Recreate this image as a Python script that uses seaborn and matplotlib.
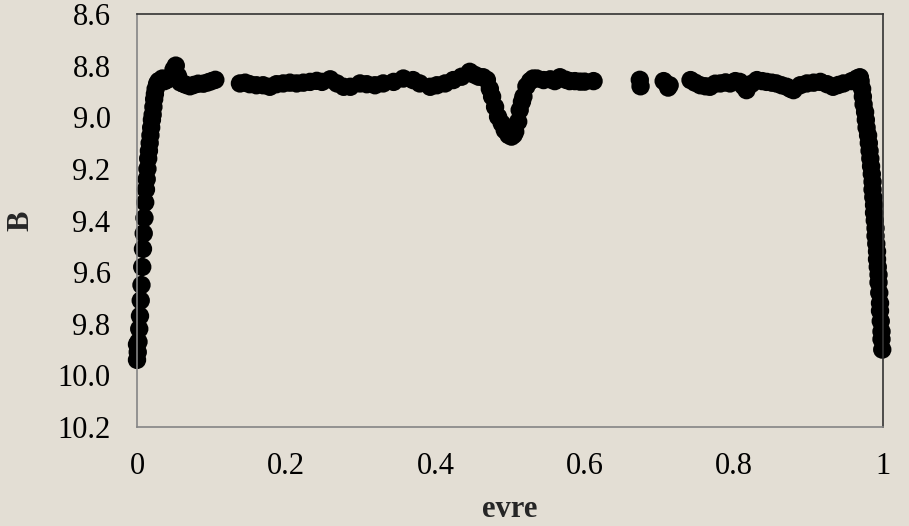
import matplotlib
matplotlib.use("Agg")
import matplotlib.pyplot as plt
import seaborn as sns
import pandas as pd

# Phase-folded B-band light curve of an eclipsing binary
phase = [
    # egress of primary minimum
    0.000, 0.000, 0.001, 0.002, 0.003, 0.004, 0.005, 0.006, 0.007, 0.008, 0.009,
    0.010, 0.011, 0.012, 0.013, 0.014, 0.015, 0.016, 0.017, 0.018, 0.019,
    0.020, 0.021, 0.022, 0.023, 0.024, 0.025, 0.027, 0.029,
    # maximum
    0.031, 0.034, 0.037, 0.040, 0.043, 0.046, 0.049, 0.052, 0.055, 0.058,
    0.062, 0.066, 0.071, 0.076, 0.082, 0.089, 0.095, 0.100, 0.105,
    0.138, 0.145, 0.151, 0.160, 0.169, 0.178, 0.187, 0.196, 0.205, 0.214,
    0.223, 0.232, 0.241, 0.248, 0.259, 0.268, 0.277, 0.286, 0.299, 0.308,
    0.319, 0.330, 0.344, 0.357, 0.370, 0.379, 0.393, 0.402, 0.413, 0.424,
    0.435, 0.446, 0.452, 0.458, 0.464, 0.469,
    # secondary minimum
    0.473, 0.476, 0.480, 0.484, 0.489, 0.493, 0.498, 0.502, 0.505, 0.507,
    0.511, 0.513, 0.516, 0.518, 0.522, 0.527, 0.531,
    # maximum
    0.536, 0.545, 0.554, 0.560, 0.567, 0.575, 0.580, 0.587, 0.594, 0.600,
    0.612,
    0.674, 0.675, 0.706, 0.712, 0.714,
    0.742, 0.748, 0.755, 0.762, 0.768, 0.775, 0.782, 0.789, 0.795, 0.802,
    0.808, 0.813, 0.817, 0.824, 0.831, 0.838, 0.844, 0.851, 0.857, 0.864,
    0.871, 0.876, 0.880, 0.889, 0.898, 0.907, 0.916, 0.925, 0.933, 0.940,
    0.947, 0.958, 0.965, 0.969,
    # ingress of primary minimum
    0.970, 0.972, 0.973, 0.974, 0.976, 0.977, 0.978, 0.980, 0.981, 0.982,
    0.983, 0.984, 0.985, 0.986, 0.986, 0.987, 0.988, 0.988, 0.989, 0.990,
    0.990, 0.991, 0.992, 0.992, 0.993, 0.994, 0.994, 0.995, 0.996, 0.996,
    0.997, 0.998, 0.998, 0.999,
]

b_mag = [
    9.94, 9.88, 9.91, 9.87, 9.82, 9.77, 9.71, 9.65, 9.58, 9.51, 9.45,
    9.39, 9.33, 9.28, 9.24, 9.20, 9.16, 9.13, 9.10, 9.07, 9.04,
    9.01, 8.99, 8.96, 8.93, 8.91, 8.89, 8.87, 8.86,
    8.86, 8.85, 8.86, 8.855, 8.85, 8.84, 8.815, 8.80, 8.84, 8.865,
    8.87, 8.875, 8.88, 8.875, 8.87, 8.87, 8.865, 8.86, 8.855,
    8.869, 8.866, 8.872, 8.876, 8.876, 8.882, 8.872, 8.869, 8.866, 8.869,
    8.866, 8.863, 8.859, 8.863, 8.853, 8.869, 8.882, 8.882, 8.869, 8.872,
    8.876, 8.869, 8.863, 8.850, 8.856, 8.869, 8.882, 8.876, 8.869, 8.856,
    8.843, 8.824, 8.835, 8.843, 8.845, 8.855,
    8.890, 8.920, 8.960, 8.998, 9.024, 9.050, 9.069, 9.075, 9.068, 9.056,
    9.017, 8.972, 8.940, 8.920, 8.880, 8.860, 8.850,
    8.850, 8.856, 8.853, 8.860, 8.845, 8.855, 8.860, 8.860, 8.862, 8.862,
    8.860,
    8.855, 8.880, 8.860, 8.885, 8.876,
    8.856, 8.866, 8.876, 8.880, 8.882, 8.870, 8.869, 8.865, 8.869, 8.860,
    8.863, 8.880, 8.895, 8.870, 8.856, 8.860, 8.863, 8.866, 8.869, 8.876,
    8.882, 8.890, 8.895, 8.876, 8.869, 8.866, 8.863, 8.872, 8.882, 8.875,
    8.869, 8.860, 8.850, 8.845,
    8.860, 8.890, 8.920, 8.950, 8.980, 9.010, 9.040, 9.070, 9.100, 9.130,
    9.160, 9.190, 9.220, 9.250, 9.280, 9.310, 9.340, 9.370, 9.400, 9.430,
    9.460, 9.490, 9.520, 9.550, 9.580, 9.610, 9.640, 9.680, 9.720, 9.750,
    9.790, 9.830, 9.860, 9.900,
]

x_ticks = [0, 0.2, 0.4, 0.6, 0.8, 1]
x_tick_labels = ["0", "0.2", "0.4", "0.6", "0.8", "1"]
y_ticks = [8.6, 8.8, 9.0, 9.2, 9.4, 9.6, 9.8, 10.0, 10.2]
y_tick_labels = ["8.6", "8.8", "9.0", "9.2", "9.4", "9.6", "9.8", "10.0", "10.2"]

df = pd.DataFrame({"evre": phase, "B": b_mag})

bg = "#E3DED4"
sns.set_style("white", {"axes.facecolor": bg, "figure.facecolor": bg})
plt.rcParams["font.family"] = ["Liberation Serif", "DejaVu Serif"]

fig = plt.figure(figsize=(9.09, 5.26), dpi=100)
ax = fig.add_axes([137 / 909, 1 - 427 / 526, (883 - 137) / 909, (427 - 14) / 526])

sns.scatterplot(data=df, x="evre", y="B", ax=ax, color="black", s=175,
                edgecolor="none", linewidth=0, legend=False, clip_on=False)

ax.set_xlim(0, 1)
ax.set_ylim(10.2, 8.6)
ax.set_xticks(x_ticks)
ax.set_xticklabels(x_tick_labels)
ax.set_yticks(y_ticks)
ax.set_yticklabels(y_tick_labels)
ax.tick_params(axis="both", length=0, labelsize=22, colors="black")
ax.tick_params(axis="x", pad=18)
ax.tick_params(axis="y", pad=19)

ax.set_xlabel("evre", fontsize=22, fontweight="bold", labelpad=10)
ax.set_ylabel("B", fontsize=22, fontweight="bold", labelpad=16)

for side in ("left", "bottom"):
    ax.spines[side].set_color("#858585")
    ax.spines[side].set_linewidth(1.2)
for side in ("top", "right"):
    ax.spines[side].set_color("#333333")
    ax.spines[side].set_linewidth(1.2)
    ax.spines[side].set_visible(True)

fig.savefig("out.png", dpi=100, facecolor=bg)
